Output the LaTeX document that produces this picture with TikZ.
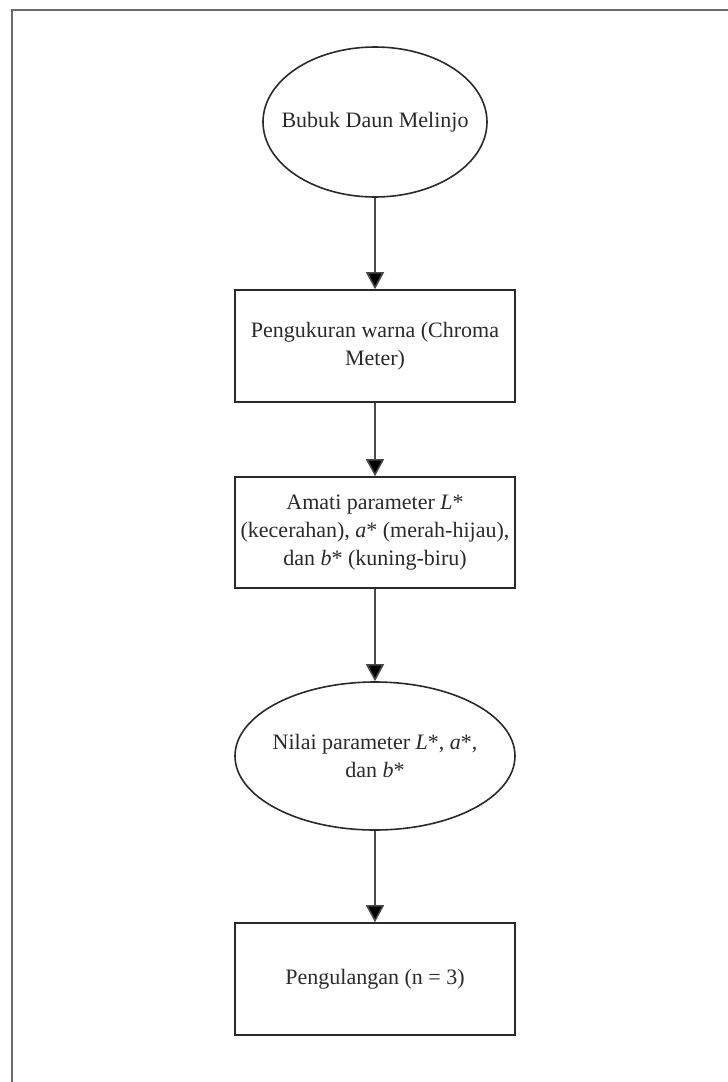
\documentclass[tikz,border=0pt]{standalone}
\usepackage{fontspec}
\setmainfont{Liberation Serif}
\usetikzlibrary{shapes.geometric,arrows.meta}

\definecolor{inkcol}{HTML}{2A2A2A}
\definecolor{framecol}{HTML}{6A6A6A}
\definecolor{wirecol}{HTML}{4A4A4A}

\tikzset{
  shapeline/.style={draw=inkcol, line width=1.6pt},
  stepbox/.style={shapeline, rectangle, minimum width=280pt, minimum height=112pt, inner sep=0pt},
  terminal/.style={shapeline, ellipse, inner sep=0pt},
  label text/.style={font=\fontsize{22}{28}\selectfont, text=inkcol, align=center, inner sep=0pt},
  flow/.style={draw=wirecol, line width=1.5pt, -{Triangle[length=17pt,width=18pt,fill=black]}},
}

\begin{document}
\begin{tikzpicture}[x=1pt,y=-1pt]
  \useasboundingbox (0,0) rectangle (728,1082);

  % page frame (only the top and left edges fall inside the sheet)
  \draw[framecol, line width=2.6pt] (12,1082) -- (12,10) -- (728,10);

  % start: powder sample
  \node[terminal, minimum width=224pt, minimum height=150pt] (start) at (375,122) {};
  \node[label text] (startT) at (start.center) {Bubuk Daun Melinjo};

  % colour measurement
  \node[stepbox, label text] (measure) at (375,346)
    {Pengukuran warna (Chroma\\Meter)};

  % observed parameters
  \node[stepbox, label text, minimum height=111pt] (observe) at (375,532.5)
    {Amati parameter \textit{L}*\\(kecerahan), \textit{a}* (merah-hijau),\\dan \textit{b}* (kuning-biru)};

  % result values
  \node[terminal, minimum width=280pt, minimum height=148pt] (values) at (375,756) {};
  \node[label text] (valuesT) at (values.center) {Nilai parameter \textit{L}*, \textit{a}*,\\dan \textit{b}*};

  % repetitions
  \node[stepbox, label text] (repeat) at (375,979) {Pengulangan (n = 3)};

  % connectors
  \draw[flow] (start.south) -- (measure.north);
  \draw[flow] (measure.south) -- (observe.north);
  \draw[flow] (observe.south) -- (values.north);
  \draw[flow] (values.south) -- (repeat.north);
\end{tikzpicture}
\end{document}
